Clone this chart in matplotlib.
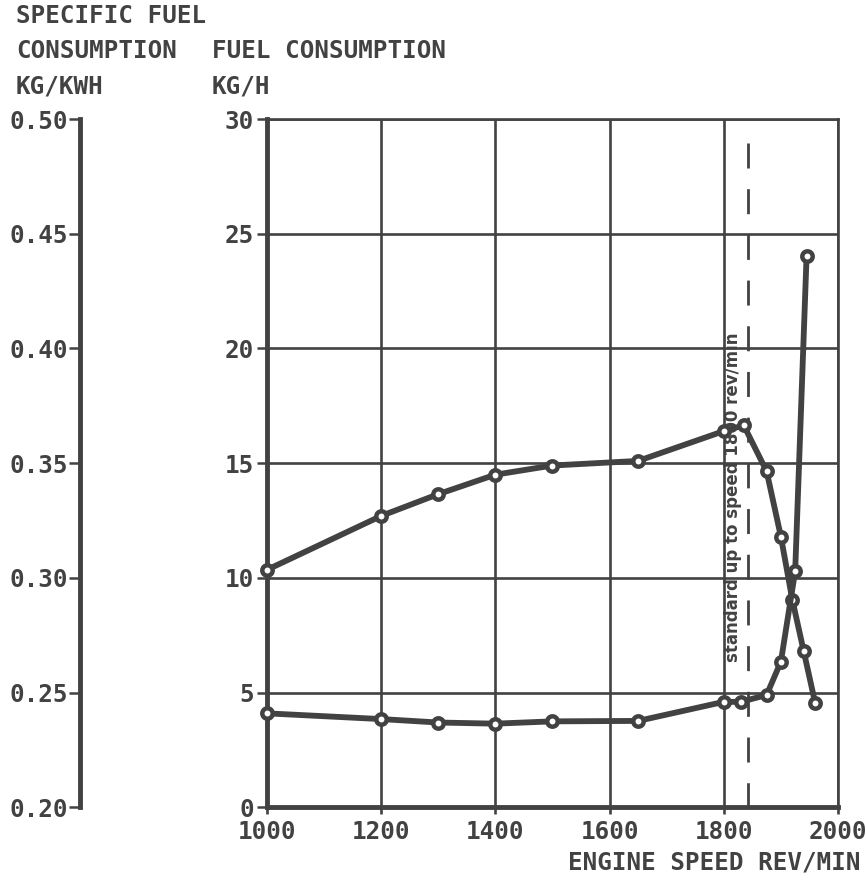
import matplotlib
matplotlib.use('Agg')
import matplotlib.pyplot as plt

# upper curve: fuel consumption kg/h
speed_fc = [1000, 1200, 1300, 1400, 1500, 1650, 1800, 1835, 1875, 1900, 1920, 1940, 1960]
fuel_kgh = [10.35, 12.7, 13.65, 14.5, 14.9, 15.1, 16.4, 16.65, 14.65, 11.8, 9.05, 6.8, 4.55]

# lower curve: specific fuel consumption kg/kWh
speed_sfc = [1000, 1200, 1300, 1400, 1500, 1650, 1800, 1830, 1875, 1900, 1925, 1945]
sfc = [0.241, 0.2385, 0.237, 0.2365, 0.2375, 0.2377, 0.246, 0.246, 0.249, 0.2635, 0.303, 0.4405]

x_ticks = [1000, 1200, 1400, 1600, 1800, 2000]
fc_ticks = [0, 5, 10, 15, 20, 25, 30]
sfc_ticks = [0.20, 0.25, 0.30, 0.35, 0.40, 0.45, 0.50]
sfc_labels = ['0.20', '0.25', '0.30', '0.35', '0.40', '0.45', '0.50']

setting_speed = 1842
setting_text = 'standard up to speed 1800 rev/min'

ink = '#424242'
plt.rcParams['font.family'] = ['DejaVu Sans Mono']
plt.rcParams['font.weight'] = 'bold'
fs = 17.5

fig = plt.figure(figsize=(8.66, 8.83), dpi=100)
ax = fig.add_axes([0.308, 0.0856, 0.6597, 0.7796])

ax.set_xlim(1000, 2000)
ax.set_ylim(0, 30)
ax.set_xticks(x_ticks)
ax.set_xticklabels([str(v) for v in x_ticks])
ax.set_yticks(fc_ticks)
ax.set_yticklabels([str(v) for v in fc_ticks])
ax.grid(True, color=ink, linewidth=1.9)
ax.set_axisbelow(True)
for side in ['left', 'bottom']:
    ax.spines[side].set_linewidth(3.5)
    ax.spines[side].set_color(ink)
for side in ['top', 'right']:
    ax.spines[side].set_linewidth(1.9)
    ax.spines[side].set_color(ink)
ax.tick_params(axis='y', direction='out', length=7, width=1.8, pad=2,
               colors=ink, labelsize=fs)
ax.tick_params(axis='x', direction='out', length=5, width=1.9, pad=4,
               colors=ink, labelsize=fs)

# dashed line for the speed setting
ax.plot([setting_speed, setting_speed], [28.97, 0], color=ink, linewidth=2,
        linestyle=(0, (9, 7.45)), clip_on=False)
ax.text(1816, 13.5, setting_text, rotation=90, ha='center', va='center',
        fontsize=12, fontweight='bold', color=ink, family=['DejaVu Sans'])

ax.plot(speed_fc, fuel_kgh, color=ink, linewidth=4.2, marker='o', markersize=7.5,
        markerfacecolor='white', markeredgecolor=ink, markeredgewidth=3.2,
        clip_on=False, zorder=5)

# second scale on the far left
ax2 = ax.twinx()
ax2.set_ylim(0.20, 0.50)
ax2.yaxis.tick_left()
ax2.spines['left'].set_position(('axes', -0.3268))
ax2.spines['left'].set_visible(True)
ax2.spines['left'].set_linewidth(3.5)
ax2.spines['left'].set_color(ink)
for side in ['right', 'top', 'bottom']:
    ax2.spines[side].set_visible(False)
ax2.set_yticks(sfc_ticks)
ax2.set_yticklabels(sfc_labels)
ax2.tick_params(axis='y', direction='out', length=8, width=1.8, pad=1,
                colors=ink, labelsize=fs)

ax2.plot(speed_sfc, sfc, color=ink, linewidth=4.2, marker='o', markersize=7.5,
         markerfacecolor='white', markeredgecolor=ink, markeredgewidth=3.2,
         clip_on=False, zorder=5)

fig.text(16 / 866, 1 - 16 / 883, 'SPECIFIC FUEL', va='center', fontsize=fs, color=ink)
fig.text(16 / 866, 1 - 50.5 / 883, 'CONSUMPTION', va='center', fontsize=fs, color=ink)
fig.text(16 / 866, 1 - 86.5 / 883, 'KG/KWH', va='center', fontsize=fs, color=ink)
fig.text(212 / 866, 1 - 50.5 / 883, 'FUEL CONSUMPTION', va='center', fontsize=fs, color=ink)
fig.text(212 / 866, 1 - 86.5 / 883, 'KG/H', va='center', fontsize=fs, color=ink)
fig.text(861 / 866, 1 - 863 / 883, 'ENGINE SPEED REV/MIN', ha='right', va='center',
         fontsize=fs, color=ink)

fig.savefig('out.png', dpi=100)
